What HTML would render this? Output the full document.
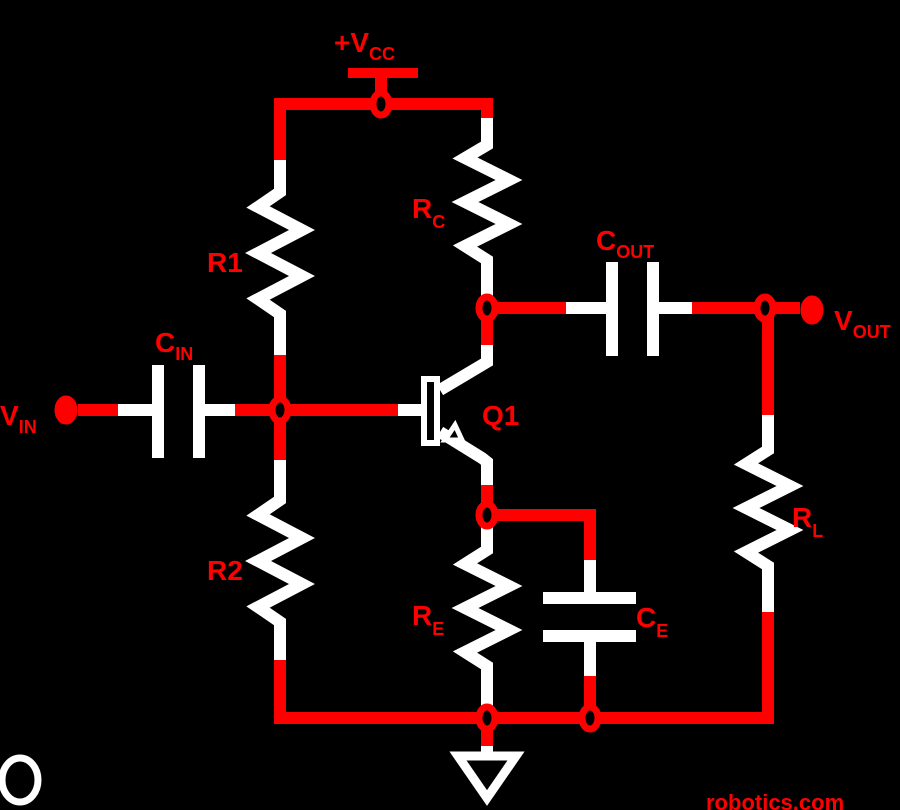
<!DOCTYPE html>
<html><head><meta charset="utf-8"><style>
html,body{margin:0;padding:0;background:#000;width:900px;height:810px;overflow:hidden}
svg{display:block}
text{font-family:"Liberation Sans",sans-serif;font-weight:bold;fill:#f00}
</style></head><body>
<svg width="900" height="810" viewBox="0 0 900 810">
<g fill="none" stroke-width="12" stroke-linecap="butt" stroke-linejoin="miter">
<!-- top rail -->
<polyline points="280,160 280,104 487,104 487,118" stroke="#f00"/>
<line x1="381" y1="74" x2="381" y2="98" stroke="#f00"/>
<line x1="348" y1="73" x2="418" y2="73" stroke="#f00" stroke-width="10"/>
<!-- R1 -->
<polyline points="280,160 280,192 258,207 302,230 258,253 302,276 258,299 280,314 280,355" stroke="#fff"/>
<line x1="280" y1="355" x2="280" y2="460" stroke="#f00"/>
<!-- R2 -->
<polyline points="280,460 280,500 258,515 302,538 258,561 302,584 258,607 280,622 280,660" stroke="#fff"/>
<polyline points="280,660 280,718 768,718 768,612" stroke="#f00"/>
<!-- RC -->
<polyline points="487,118 487,145 465,158 509,180 465,202 509,224 465,246 487,260 487,296" stroke="#fff"/>
<line x1="487" y1="296" x2="487" y2="345" stroke="#f00"/>
<!-- transistor -->
<polyline points="487,345 487,362 440,390" stroke="#fff"/>
<polyline points="440,432 482,458 487,462 487,485" stroke="#fff"/>
<polygon points="445,440 462,440 455,425" stroke="#fff" stroke-width="5" fill="#000"/>
<rect x="424" y="379" width="13" height="64" stroke="#fff" stroke-width="6" fill="#000"/>
<line x1="280" y1="410" x2="398" y2="410" stroke="#f00"/>
<line x1="398" y1="410" x2="424" y2="410" stroke="#fff"/>
<line x1="487" y1="485" x2="487" y2="525" stroke="#f00"/>
<!-- RE -->
<polyline points="487,525 487,550 465,564 509,586 465,608 509,630 465,652 487,666 487,706" stroke="#fff"/>
<!-- CE -->
<polyline points="487,515 590,515 590,560" stroke="#f00"/>
<line x1="590" y1="560" x2="590" y2="598" stroke="#fff"/>
<line x1="543" y1="598" x2="636" y2="598" stroke="#fff"/>
<line x1="543" y1="636" x2="636" y2="636" stroke="#fff"/>
<line x1="590" y1="636" x2="590" y2="676" stroke="#fff"/>
<line x1="590" y1="676" x2="590" y2="718" stroke="#f00"/>
<!-- Cout -->
<line x1="487" y1="308" x2="566" y2="308" stroke="#f00"/>
<line x1="566" y1="308" x2="612" y2="308" stroke="#fff"/>
<line x1="612" y1="262" x2="612" y2="356" stroke="#fff"/>
<line x1="653" y1="262" x2="653" y2="356" stroke="#fff"/>
<line x1="653" y1="308" x2="692" y2="308" stroke="#fff"/>
<line x1="692" y1="308" x2="800" y2="308" stroke="#f00"/>
<line x1="768" y1="308" x2="768" y2="415" stroke="#f00"/>
<!-- RL -->
<polyline points="768,415 768,450 746,464 790,486 746,508 790,530 746,552 768,566 768,612" stroke="#fff"/>
<!-- Cin -->
<line x1="78" y1="410" x2="118" y2="410" stroke="#f00"/>
<line x1="118" y1="410" x2="158" y2="410" stroke="#fff"/>
<line x1="158" y1="365" x2="158" y2="458" stroke="#fff"/>
<line x1="199" y1="365" x2="199" y2="458" stroke="#fff"/>
<line x1="199" y1="410" x2="235" y2="410" stroke="#fff"/>
<line x1="235" y1="410" x2="280" y2="410" stroke="#f00"/>
<!-- ground -->
<line x1="487" y1="718" x2="487" y2="746" stroke="#f00"/>
<line x1="487" y1="746" x2="487" y2="756" stroke="#fff"/>
<polygon points="458,756 516,756 487,798" stroke="#fff" stroke-width="9"/>
<!-- nodes -->
<g stroke="#f00" stroke-width="7" fill="#000">
<ellipse cx="381" cy="104" rx="8" ry="11"/>
<ellipse cx="280" cy="410" rx="8" ry="11"/>
<ellipse cx="487" cy="308" rx="8" ry="11"/>
<ellipse cx="487" cy="515" rx="8" ry="11"/>
<ellipse cx="765" cy="308" rx="8" ry="11"/>
<ellipse cx="487" cy="718" rx="8" ry="11"/>
<ellipse cx="590" cy="718" rx="8" ry="11"/>
</g>
<ellipse cx="66" cy="410" rx="8" ry="11" stroke="#f00" stroke-width="7" fill="#f00"/>
<ellipse cx="812" cy="310" rx="8" ry="11" stroke="#f00" stroke-width="7" fill="#f00"/>
<ellipse cx="20" cy="780" rx="18" ry="22" stroke="#fff" stroke-width="7"/>
</g>
<g>
<text x="334" y="52" font-size="28">+V<tspan font-size="18" dy="8">CC</tspan></text>
<text x="207" y="272" font-size="28">R1</text>
<text x="412" y="218" font-size="28">R<tspan font-size="18" dy="10">C</tspan></text>
<text x="596" y="250" font-size="28">C<tspan font-size="18" dy="8">OUT</tspan></text>
<text x="155" y="352" font-size="28">C<tspan font-size="18" dy="8">IN</tspan></text>
<text x="482" y="425" font-size="28">Q1</text>
<text x="0" y="425" font-size="28">V<tspan font-size="18" dy="8">IN</tspan></text>
<text x="834" y="330" font-size="28">V<tspan font-size="18" dy="8">OUT</tspan></text>
<text x="207" y="580" font-size="28">R2</text>
<text x="412" y="625" font-size="28">R<tspan font-size="18" dy="10">E</tspan></text>
<text x="636" y="627" font-size="28">C<tspan font-size="18" dy="10">E</tspan></text>
<text x="792" y="527" font-size="28">R<tspan font-size="18" dy="10">L</tspan></text>
<text x="706" y="810" font-size="22">robotics.com</text>
</g>
</svg>
</body></html>
